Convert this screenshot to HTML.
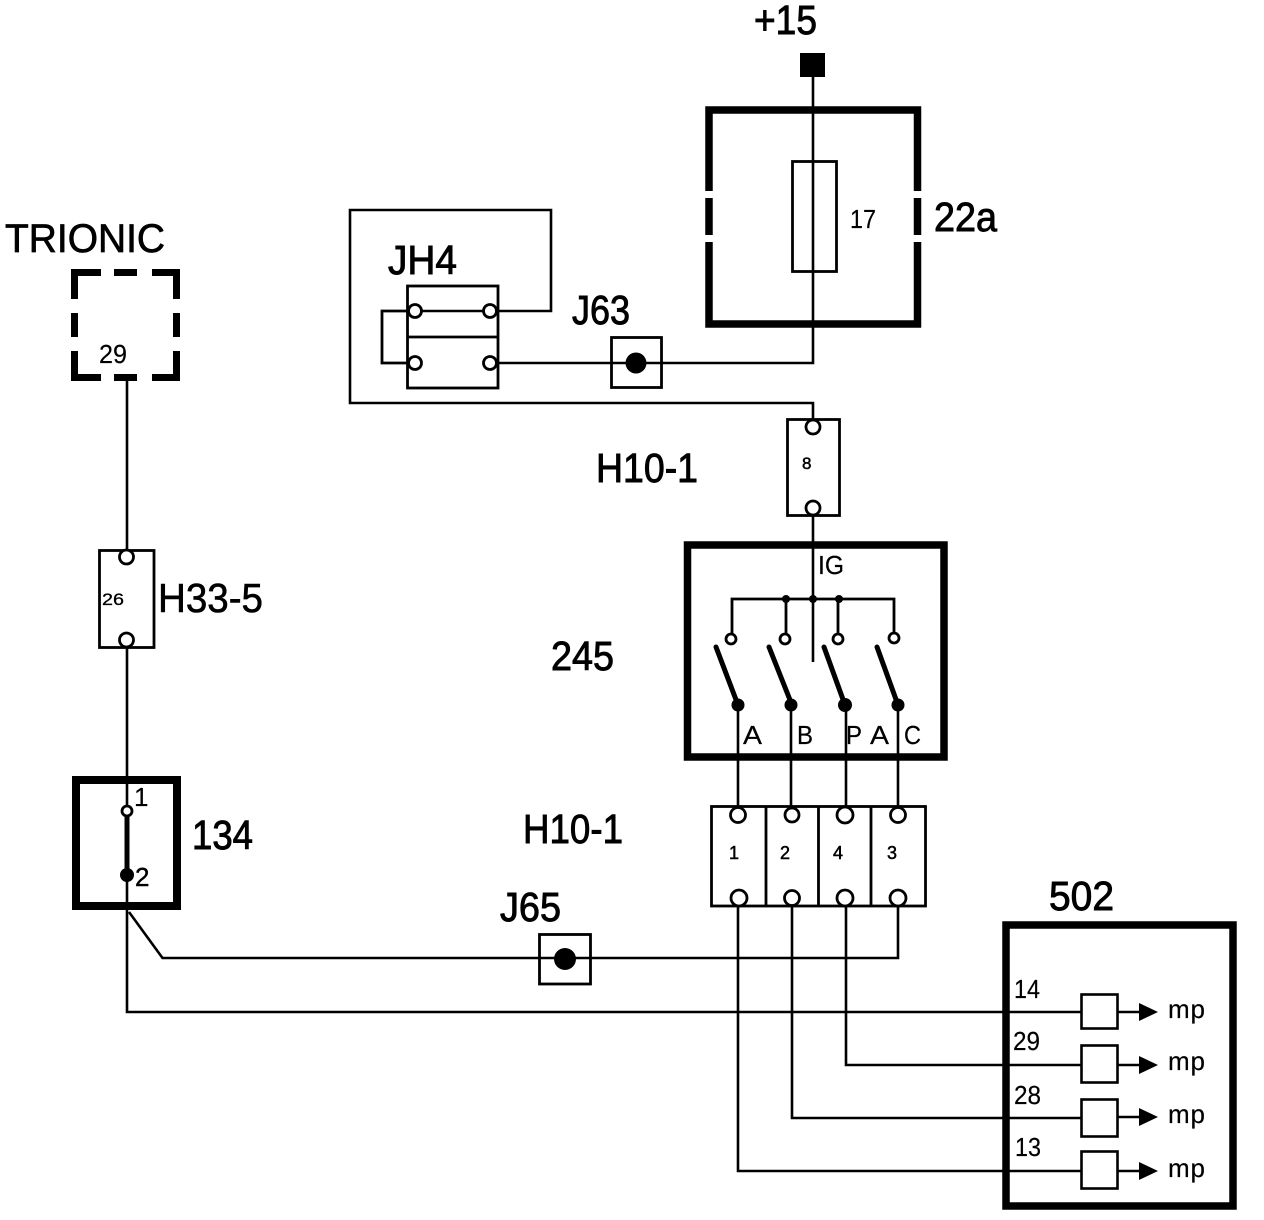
<!DOCTYPE html>
<html>
<head>
<meta charset="utf-8">
<style>
html,body{margin:0;padding:0;background:#fff;}
svg{display:block;}
text{font-family:"Liberation Sans",sans-serif;fill:#000;}
.l{font-size:41px;stroke:#000;stroke-width:.9px;}
.m{font-size:26px;stroke:#000;stroke-width:.2px;}
.s{font-size:17px;stroke:#000;stroke-width:.5px;}
.w{fill:none;stroke:#000;stroke-width:2.6;}
.b{fill:#fff;stroke:#000;stroke-width:2.6;}
.n{fill:none;stroke:#000;stroke-width:2.8;}
.t{fill:none;stroke:#000;stroke-width:7.5;}
.p{fill:#fff;stroke:#000;stroke-width:2.8;}
.d{fill:#000;}
</style>
</head>
<body>
<svg width="1264" height="1220" viewBox="0 0 1264 1220" xmlns="http://www.w3.org/2000/svg">
<rect width="1264" height="1220" fill="#fff"/>

<!-- +15 and 22a -->
<text class="l" x="754" y="34" textLength="63" lengthAdjust="spacingAndGlyphs">+15</text>
<rect class="d" x="800" y="53" width="25" height="24"/>
<path class="t" d="M709 191V110H917.500V191M709 198V235M917.500 198V235M709 242V324H917.500V242"/>
<rect class="n" x="792.500" y="161.500" width="44" height="110"/>
<path class="w" d="M813 77V363H498"/>
<text class="m" x="850" y="228" textLength="26" lengthAdjust="spacingAndGlyphs">17</text>
<text class="l" x="934" y="231" textLength="63" lengthAdjust="spacingAndGlyphs">22a</text>

<!-- JH4 -->
<text class="l" x="388" y="274" textLength="69" lengthAdjust="spacingAndGlyphs">JH4</text>
<path class="w" d="M407 311H551V210H350V403H813V420"/>
<path class="n" d="M414 311H382V363H414"/>
<rect class="n" x="407.500" y="286" width="90.500" height="102"/>
<path class="n" d="M407 337H498"/>
<circle class="p" cx="415" cy="311" r="6.500"/>
<circle class="p" cx="490" cy="311" r="6.500"/>
<circle class="p" cx="415" cy="363" r="6.500"/>
<circle class="p" cx="490" cy="363" r="6.500"/>

<!-- J63 -->
<text class="l" x="572" y="324" textLength="58" lengthAdjust="spacingAndGlyphs">J63</text>
<rect class="n" x="611.500" y="337.500" width="50" height="50"/>
<circle class="d" cx="636" cy="363" r="10.500"/>

<!-- H10-1 upper -->
<text class="l" x="596" y="482" textLength="102" lengthAdjust="spacingAndGlyphs">H10-1</text>
<rect class="n" x="787.500" y="419.500" width="52" height="96"/>
<circle class="p" cx="813" cy="427" r="7"/>
<circle class="p" cx="813" cy="508" r="7"/>
<text class="s" x="802" y="469" style="font-size:17px">8</text>

<!-- 245 -->
<text class="l" x="551" y="670" textLength="63" lengthAdjust="spacingAndGlyphs">245</text>
<rect x="687.500" y="545" width="256.500" height="212" fill="none" stroke="#000" stroke-width="7.500"/>
<path class="w" d="M813 516V662"/>
<path class="n" d="M732 634V599H894V634M786 599V634M838 599V634"/>
<circle class="d" cx="786" cy="599" r="4"/>
<circle class="d" cx="813" cy="599" r="4"/>
<circle class="d" cx="839" cy="599" r="4"/>
<circle class="p" cx="731" cy="639" r="5"/>
<circle class="p" cx="785" cy="639" r="5"/>
<circle class="p" cx="838" cy="639" r="5"/>
<circle class="p" cx="894" cy="638" r="5"/>
<path fill="none" stroke="#000" stroke-width="5" stroke-linecap="round" d="M716 647L738 705M769 647L792 705M824 647L845 705M877 647L898 705"/>
<circle class="d" cx="738" cy="705" r="6.500"/>
<circle class="d" cx="791" cy="705" r="6.500"/>
<circle class="d" cx="845" cy="705" r="7"/>
<circle class="d" cx="898" cy="705" r="6.500"/>
<path class="w" d="M738 705V808M791 705V808M846 705V808M898 705V808"/>
<text class="m" x="818" y="574" textLength="26" lengthAdjust="spacingAndGlyphs">IG</text>
<text class="m" x="743" y="744" textLength="19" lengthAdjust="spacingAndGlyphs">A</text>
<text class="m" x="797" y="744" textLength="16" lengthAdjust="spacingAndGlyphs">B</text>
<text class="m" x="846" y="744" textLength="16" lengthAdjust="spacingAndGlyphs">P</text>
<text class="m" x="870" y="744" textLength="19" lengthAdjust="spacingAndGlyphs">A</text>
<text class="m" x="904" y="744" textLength="17" lengthAdjust="spacingAndGlyphs">C</text>

<!-- H10-1 lower -->
<text class="l" x="523" y="843" textLength="100" lengthAdjust="spacingAndGlyphs">H10-1</text>
<path class="w" d="M738 898V1171H1082M792 898V1118H1082M846 898V1065H1082M898 898V958H162.500L129 912"/>
<rect class="n" x="711.500" y="806.500" width="214" height="99.500"/>
<path class="n" d="M766 806V906M818.500 806V906M871 806V906"/>
<circle class="p" cx="738" cy="815" r="7.500"/>
<circle class="p" cx="792" cy="815" r="7"/>
<circle class="p" cx="845" cy="815" r="8"/>
<circle class="p" cx="898" cy="815" r="7.500"/>
<circle class="p" cx="739" cy="898" r="8"/>
<circle class="p" cx="792" cy="898" r="7.500"/>
<circle class="p" cx="845" cy="898" r="8"/>
<circle class="p" cx="898" cy="898" r="8"/>
<text class="s" x="729" y="859" style="font-size:18px">1</text>
<text class="s" x="780" y="859" style="font-size:18px">2</text>
<text class="s" x="833" y="859" style="font-size:18px">4</text>
<text class="s" x="887" y="859" style="font-size:18px">3</text>

<!-- J65 -->
<text class="l" x="500" y="921" textLength="61" lengthAdjust="spacingAndGlyphs">J65</text>
<rect class="n" x="539.500" y="934.500" width="51" height="49.500"/>
<circle class="d" cx="565" cy="959" r="11"/>

<!-- TRIONIC -->
<text class="l" x="5" y="252" textLength="160" lengthAdjust="spacingAndGlyphs" style="font-size:40px;stroke-width:.7px">TRIONIC</text>
<g fill="#000">
<rect x="71" y="269" width="30" height="7"/>
<rect x="71" y="269" width="7" height="30"/>
<rect x="114" y="269" width="23" height="7"/>
<rect x="152" y="269" width="28" height="7"/>
<rect x="173" y="269" width="7" height="30"/>
<rect x="71" y="313" width="7" height="24"/>
<rect x="173" y="313" width="7" height="24"/>
<rect x="71" y="351" width="7" height="30"/>
<rect x="71" y="374" width="30" height="7"/>
<rect x="114" y="374" width="23" height="7"/>
<rect x="152" y="374" width="28" height="7"/>
<rect x="173" y="351" width="7" height="30"/>
</g>
<text class="m" x="99" y="363" textLength="28" lengthAdjust="spacingAndGlyphs">29</text>

<!-- left vertical -->
<path class="w" d="M127 381V1012H1082"/>

<!-- H33-5 -->
<rect class="b" x="99.500" y="550.500" width="54.500" height="97" style="stroke-width:2.800"/>
<circle class="p" cx="126.500" cy="557" r="7"/>
<circle class="p" cx="126.500" cy="640" r="7"/>
<text class="s" x="102" y="605" textLength="22" lengthAdjust="spacingAndGlyphs" style="stroke-width:.3px">26</text>
<text class="l" x="158" y="612" textLength="105" lengthAdjust="spacingAndGlyphs" style="stroke-width:.6px">H33-5</text>

<!-- 134 -->
<rect x="76" y="780" width="101" height="126" fill="none" stroke="#000" stroke-width="8"/>
<path fill="none" stroke="#000" stroke-width="5" d="M127 816V876"/>
<circle class="p" cx="127" cy="811" r="5"/>
<circle class="d" cx="127" cy="875" r="7"/>
<text class="m" x="134" y="806">1</text>
<text class="m" x="135" y="886" style="stroke:#000;stroke-width:.4px">2</text>
<text class="l" x="192" y="849" textLength="61" lengthAdjust="spacingAndGlyphs">134</text>

<!-- 502 -->
<text class="l" x="1049" y="910" textLength="65" lengthAdjust="spacingAndGlyphs">502</text>
<path fill="none" stroke="#000" stroke-width="7.500" d="M1006 925H1233V1206H1006Z"/>
<g class="b">
<rect class="b" x="1081.500" y="994.500" width="36" height="34"/>
<rect class="b" x="1081.500" y="1045.500" width="36" height="37"/>
<rect class="b" x="1081.500" y="1099.500" width="36" height="37"/>
<rect class="b" x="1081.500" y="1151.500" width="36" height="37"/>
</g>
<path class="w" d="M1118 1012H1140M1118 1065H1140M1118 1117H1140M1118 1171H1140"/>
<path class="d" d="M1139 1003L1158 1012L1139 1021ZM1139 1056L1158 1065L1139 1074ZM1139 1108L1158 1117L1139 1126ZM1139 1162L1158 1171L1139 1180Z"/>
<text class="m" x="1168" y="1018" textLength="37" lengthAdjust="spacing">mp</text>
<text class="m" x="1168" y="1070" textLength="37" lengthAdjust="spacing">mp</text>
<text class="m" x="1168" y="1123" textLength="37" lengthAdjust="spacing">mp</text>
<text class="m" x="1168" y="1177" textLength="37" lengthAdjust="spacing">mp</text>
<text class="m" x="1014" y="998" textLength="26" lengthAdjust="spacingAndGlyphs">14</text>
<text class="m" x="1013" y="1050" textLength="27" lengthAdjust="spacingAndGlyphs">29</text>
<text class="m" x="1014" y="1104" textLength="27" lengthAdjust="spacingAndGlyphs">28</text>
<text class="m" x="1015" y="1156" textLength="26" lengthAdjust="spacingAndGlyphs">13</text>
</svg>
</body>
</html>
